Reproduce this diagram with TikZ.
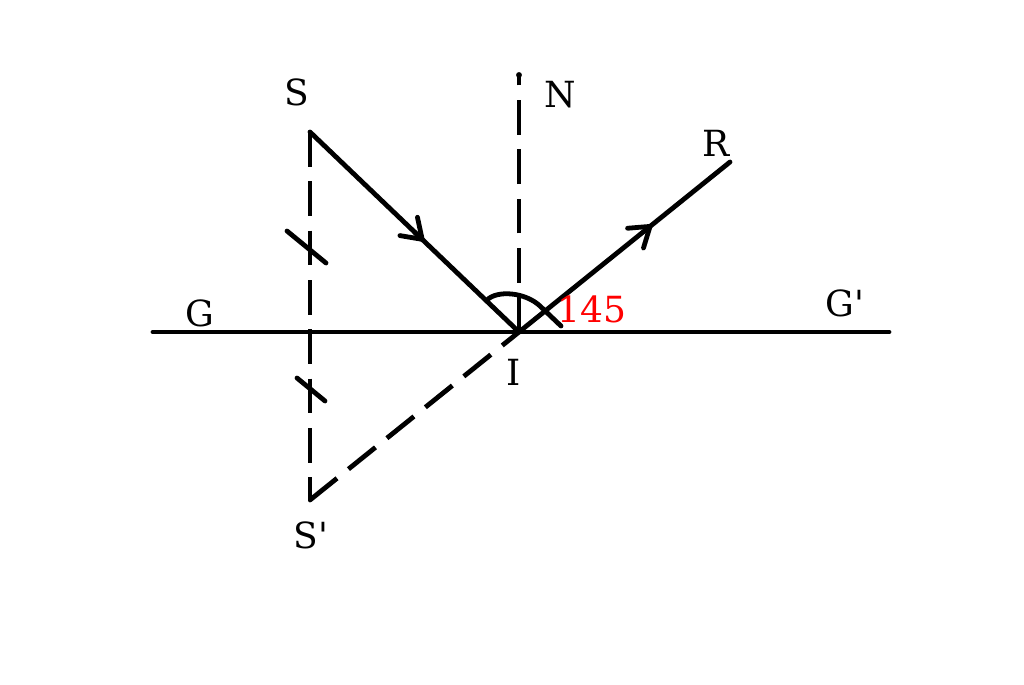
\documentclass[tikz,border=0pt]{standalone}
\usepackage{fontspec}
\setmainfont{DejaVu Serif}
\usetikzlibrary{arrows.meta,calc}
\tikzset{every picture/.style={line width=3.6pt}}
\tikzset{
  ray/.style={line cap=round},
  dashray/.style={line cap=butt, dash pattern=on 26pt off 11pt},
  lbl/.style={inner sep=0.75pt, font=\fontsize{27}{30}\selectfont},
  barb/.style={-{Straight Barb[length=14pt,width=19pt,line width=3.6pt,round]}}
}

\begin{document}
\begin{tikzpicture}[x=0.75pt,y=0.75pt,yscale=-1,xscale=1]
\useasboundingbox (0,0) rectangle (1024,685);

% Points
\coordinate (S) at (310,132);
\coordinate (Sp) at (310,500);
\coordinate (I) at (519,332);
\coordinate (Ntop) at (519,75);
\coordinate (R) at (730,162);
\coordinate (Gl) at (153,332);
\coordinate (Gr) at (889,332);

%Straight Lines: mirror GG'
\draw [ray] (Gl) -- (Gr) ;
%Straight Lines: normal IN
\draw [dashray] (I) -- (Ntop) ;
\fill (Ntop) circle (2.2pt);
%Straight Lines: S to S'
\draw [dashray] (S) -- (Sp) ;
%Straight Lines: S' to I
\draw [dashray] (Sp) -- (I) ;
%Straight Lines: incident ray
\draw [ray, barb] (S) -- ($(S)!0.545!(I)$) ;
\draw [ray] ($(S)!0.5!(I)$) -- (I) ;
%Straight Lines: reflected ray
\draw [ray, barb] (I) -- ($(I)!0.63!(R)$) ;
\draw [ray] ($(I)!0.6!(R)$) -- (R) ;
\draw [ray] (Sp) -- ++(0,-12) ;
%Tick marks
\draw [ray] (287,231) -- (326,263) ;
\draw [ray] (297,378) -- (325,401) ;
%Curve Lines: angle
\draw [ray] (487,300) .. controls (497,290) and (525,292) .. (540,306) -- (561,326) ;

% Text Node
\node [lbl] (lS) at (297,92) {S};
% Text Node
\node [lbl] (lN) at (560,95) {N};
% Text Node
\node [lbl] (lR) at (716,143) {R};
% Text Node
\node [lbl] (lG) at (200,313) {G};
% Text Node
\node [lbl] (lGp) at (845,303) {G\textquotesingle};
% Text Node
\node [lbl] (lI) at (514,372) {I};
% Text Node
\node [lbl] (lSp) at (311,535) {S\textquotesingle};
% Text Node
\node [lbl, text=red] (l145) at (592,309) {145};

\end{tikzpicture}
\end{document}
